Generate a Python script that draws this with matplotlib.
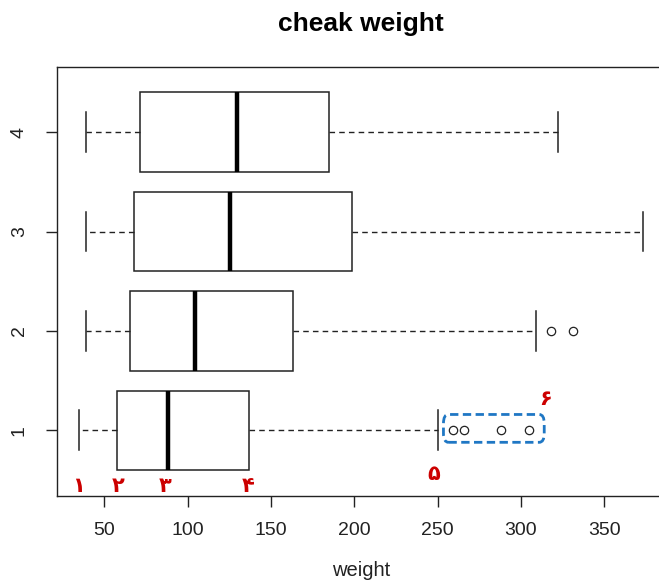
import matplotlib.pyplot as plt
from matplotlib.patches import FancyBboxPatch

plt.rcParams['font.family'] = ['Liberation Sans', 'DejaVu Sans']

# ChickWeight summary per diet (weight)
diets = [1, 2, 3, 4]
w_min = [35, 39, 39, 39]
w_q1 = [57.75, 65.5, 67.5, 71.25]
w_med = [88, 104.5, 125.5, 129.5]
w_q3 = [136.5, 163, 198.75, 184.75]
w_max = [250, 309, 373, 322]
outliers = [[259, 266, 288, 305], [318, 331], [], []]

# red number markers on the first box
marks = ['۱', '۲', '۳', '۴', '۵', '۶']
mark_x = [34.5, 58, 86.5, 136.5, 247.5, 315]
mark_y = [0.44, 0.44, 0.44, 0.44, 0.56, 1.32]

stats = []
for i in range(len(diets)):
    stats.append(dict(whislo=w_min[i], q1=w_q1[i], med=w_med[i], q3=w_q3[i],
                      whishi=w_max[i], fliers=outliers[i], label=str(diets[i])))

fig = plt.figure(figsize=(6.59, 5.8), dpi=100)
ax = fig.add_axes([57 / 659, 84 / 580, 608 / 659, 429.5 / 580])

line_col = '#222222'
ax.bxp(stats, positions=diets, vert=False, widths=0.8, patch_artist=True,
       boxprops=dict(facecolor='white', edgecolor=line_col, linewidth=1.1),
       medianprops=dict(color='black', linewidth=3.2, solid_capstyle='butt'),
       whiskerprops=dict(color=line_col, linewidth=1, linestyle=(0, (4, 3))),
       capprops=dict(color=line_col, linewidth=1.1), capwidths=0.4,
       flierprops=dict(marker='o', markersize=6, markerfacecolor='none',
                       markeredgecolor=line_col, markeredgewidth=0.9))

ax.set_xlim(21.5, 386.5)
ax.set_ylim(0.34, 4.66)
ax.set_xticks([50, 100, 150, 200, 250, 300, 350])
ax.set_yticks(diets)
ax.set_yticklabels([str(d) for d in diets], rotation=90, va='center')
ax.tick_params(length=8, width=1, color=line_col, labelsize=14,
               labelcolor='#222222')
ax.tick_params(axis='x', pad=11)
ax.tick_params(axis='y', pad=13)
for s in ax.spines.values():
    s.set_color(line_col)
    s.set_linewidth(1)

fig.text(361 / 659, 1 - 571 / 580, 'weight', ha='center', va='center',
         fontsize=14.5, color='#222222')
fig.text(361 / 659, 1 - 24 / 580, 'cheak weight', ha='center', va='center',
         fontsize=19, fontweight='bold')

# dashed frame around the diet 1 outliers
box = FancyBboxPatch((253.5, 0.88), 60.5, 0.28,
                     boxstyle='round,pad=0,rounding_size=3',
                     mutation_aspect=0.03, facecolor='none',
                     edgecolor='#1f77c4', linewidth=2, linestyle=(0, (3, 1.6)))
ax.add_patch(box)

for t, x, y in zip(marks, mark_x, mark_y):
    ax.text(x, y, t, color='#cc0000', fontsize=15, fontweight='bold',
            ha='center', va='center', family=['DejaVu Sans'])

fig.savefig('out.png', dpi=100)
